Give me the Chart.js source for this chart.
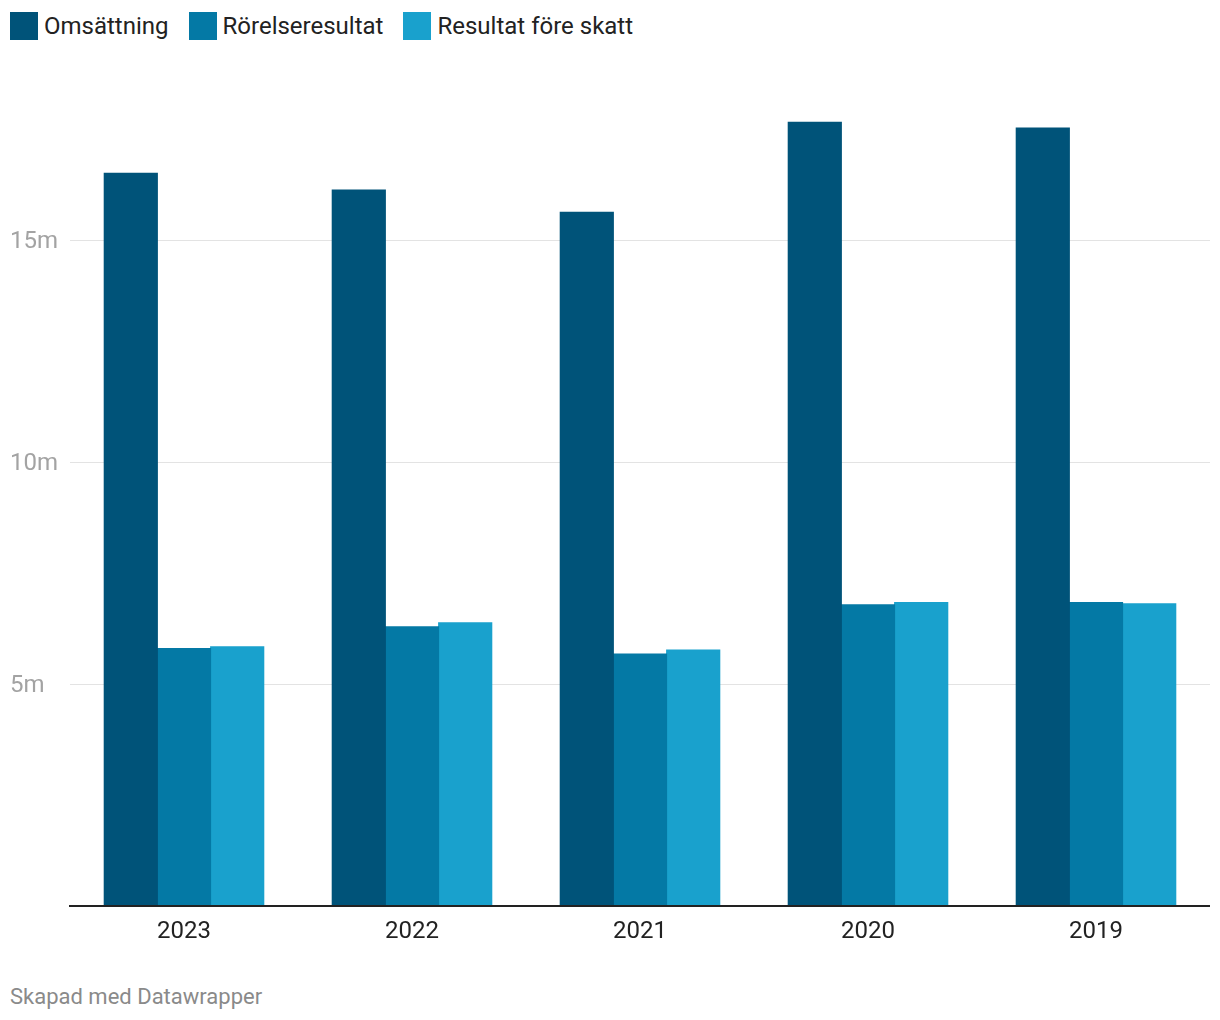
<!DOCTYPE html>
<html lang="sv">
<head>
  <meta charset="UTF-8">
  <title>Omsättning och resultat</title>
  <style>
    body { margin: 0; background: #fff; font-family: Roboto, sans-serif; }
    .wrap { position: relative; width: 1220px; height: 1020px; }
    .legend { position: absolute; left: 10px; top: 12px; display: flex; }
    .legend div { display: flex; align-items: center; margin-right: 20px; font-size: 24px; color: #222; height: 28px; }
    .legend span { display: inline-block; width: 28px; height: 28px; margin-right: 6px; }
    .chartBox { position: absolute; left: 10px; top: 106px; width: 1200px; height: 845px; }
    .footer { position: absolute; left: 10px; top: 984px; font-size: 22px; color: #8a8a8a; }
  </style>
</head>
<body>
  <div class="wrap">
    <div class="legend" id="legend"></div>
    <div class="chartBox"><canvas id="myChart"></canvas></div>
    <div class="footer">Skapad med Datawrapper</div>
  </div>
  <script src="https://cdn.jsdelivr.net/npm/chart.js"></script>
  <script>
    // values in millions
    const years = ['2023', '2022', '2021', '2020', '2019']
    const omsattning = [16.51, 16.13, 15.63, 17.66, 17.53]
    const rorelseresultat = [5.80, 6.29, 5.68, 6.79, 6.84]
    const resultatForeSkatt = [5.84, 6.38, 5.77, 6.84, 6.81]
    const yTicks = [0, 5, 10, 15]

    const colors = ['#005379', '#0479a5', '#19a1cd']
    const names = ['Omsättning', 'Rörelseresultat', 'Resultat före skatt']

    const legend = document.getElementById('legend')
    names.forEach((n, i) => {
      const item = document.createElement('div')
      const sw = document.createElement('span')
      sw.style.background = colors[i]
      item.appendChild(sw)
      item.appendChild(document.createTextNode(n))
      legend.appendChild(item)
    })

    const data = {
      labels: years,
      datasets: [
        { label: names[0], data: omsattning, backgroundColor: colors[0] },
        { label: names[1], data: rorelseresultat, backgroundColor: colors[1] },
        { label: names[2], data: resultatForeSkatt, backgroundColor: colors[2] }
      ]
    }

    const config = {
      type: 'bar',
      data: data,
      options: {
        responsive: true,
        maintainAspectRatio: false,
        animation: false,
        layout: { padding: { top: 6, right: 0, left: 0, bottom: 0 } },
        datasets: { bar: { categoryPercentage: 0.7, barPercentage: 1.0, borderWidth: 0, inflateAmount: 0.5 } },
        plugins: { legend: { display: false }, tooltip: { enabled: false } },
        scales: {
          x: {
            grid: { display: false, drawTicks: false },
            border: { color: '#222', width: 2, z: 1 },
            ticks: { color: '#222', font: { family: 'Roboto', size: 24 }, padding: 12 },
            afterFit: scale => { scale.height = 45 }
          },
          y: {
            min: 0,
            max: 17.7,
            afterBuildTicks: scale => { scale.ticks = yTicks.map(v => ({ value: v })) },
            grid: {
              color: ctx => ctx.tick && ctx.tick.value === 0 ? 'rgba(0,0,0,0)' : '#e3e3e3',
              lineWidth: 1,
              drawTicks: false
            },
            border: { display: false },
            ticks: {
              color: '#a3a3a3',
              font: { family: 'Roboto', size: 24 },
              crossAlign: 'far',
              padding: 0,
              labelOffset: 2,
              callback: v => v === 0 ? '' : v + 'm'
            },
            afterFit: scale => { scale.width = 60 }
          }
        }
      }
    }

    const myChart = new Chart(document.getElementById('myChart'), config)
  </script>
</body>
</html>
